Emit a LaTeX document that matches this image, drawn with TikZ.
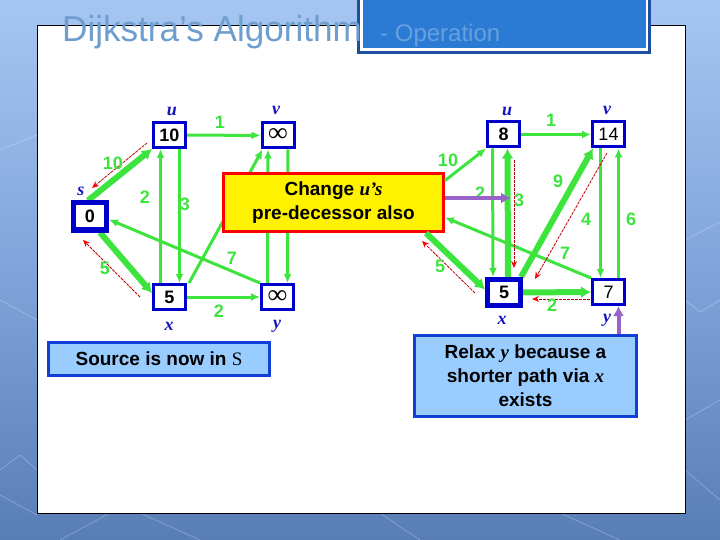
\documentclass[tikz,border=0pt]{standalone}
\usepackage{fontspec}
\setmainfont{Liberation Serif}
\setsansfont{Liberation Sans}
\usetikzlibrary{arrows.meta,calc}
\definecolor{gr}{RGB}{62,228,62}
\definecolor{nblue}{RGB}{0,0,205}
\definecolor{lblue}{RGB}{20,20,190}
\definecolor{boxfill}{RGB}{153,204,255}
\definecolor{boxline}{RGB}{16,64,216}
\definecolor{purp}{RGB}{150,100,200}
\definecolor{titlec}{RGB}{110,158,206}
\definecolor{opc}{RGB}{104,160,222}
\definecolor{rd}{RGB}{190,0,0}
\definecolor{bgtop}{RGB}{166,198,242}
\definecolor{bgmid}{RGB}{128,164,218}
\definecolor{bgbot}{RGB}{88,126,182}
\definecolor{boxdark}{RGB}{30,78,160}
\definecolor{boxmid}{RGB}{43,123,212}
\tikzset{
  vtx/.style={draw=nblue,line width=3pt,fill=white,minimum width=32pt,minimum height=25pt,inner sep=0pt,font=\sffamily\bfseries\fontsize{18}{20}\selectfont},
  src/.style={vtx,line width=5pt,minimum width=33pt,minimum height=27pt},
  e/.style={draw=gr,line width=3pt,-{Latex[length=9pt,width=8pt]}},
  et/.style={draw=gr,line width=6pt,-{Latex[length=10pt,width=12pt]}},
  elbl/.style={text=gr,font=\sffamily\bfseries\fontsize{18}{20}\selectfont,inner sep=0pt},
  nl/.style={text=lblue,font=\bfseries\itshape\fontsize{18}{20}\selectfont,inner sep=0pt},
  redarr/.style={draw=rd,line width=0.8pt,dash pattern=on 3pt off 1pt,-{Stealth[length=7pt,width=6pt,color=red]}},
  parr/.style={draw=purp,line width=4pt,-{Latex[length=10pt,width=11pt]}},
  infobox/.style={draw=boxline,line width=3pt,fill=boxfill,inner sep=0pt,align=center,font=\sffamily\bfseries\fontsize{19}{24}\selectfont},
  pic/.style={x=1pt,y=-1pt}
}
\newcommand{\infsym}{{\rmfamily\bfseries\fontsize{27}{20}\selectfont ∞}}
\begin{document}
\begin{tikzpicture}[pic]
\useasboundingbox (0,0) rectangle (720,540);
% background
\shade[top color=bgtop,bottom color=bgbot,middle color=bgmid] (0,0) rectangle (720,540);
\begin{scope}[draw=white,opacity=0.25,line width=0.8pt]
\draw (0,470) -- (20,455) -- (37,470);
\draw (0,495) -- (37,515);
\draw (60,540) -- (110,513);
\draw (140,513) -- (200,540);
\draw (380,513) -- (420,540);
\draw (560,513) -- (620,540);
\draw (685,240) -- (720,222);
\draw (685,300) -- (700,312) -- (720,300);
\draw (685,420) -- (720,400);
\draw (685,470) -- (720,500);
\draw (0,300) -- (37,320);
\draw (0,150) -- (37,135);
\end{scope}
% panel
\draw[black,line width=1pt,fill=white] (37,26) rectangle (685,513);
% title box
\fill[boxdark] (357,-5) rectangle (651,54);
\fill[white] (360,-5) rectangle (648,51);
\fill[boxmid] (362.5,-5) rectangle (645.5,48);
\node[anchor=base west,text=titlec,font=\sffamily\fontsize{36}{38}\selectfont,inner sep=0pt,xscale=0.975] (t1) at (62,42) {Dijkstra’s Algorithm};
\node[anchor=base west,text=opc,font=\sffamily\fontsize{24}{26}\selectfont,inner sep=0pt] (t2) at (380,42) {- Operation};
% ---------- left graph nodes
\node[vtx] (u) at (169.5,135) {10};
\node[vtx] (v) at (278,135.5) {\infsym};
\node[src] (s) at (90,216.5) {0};
\node[vtx] (x) at (169.5,297) {5};
\node[vtx] (y) at (277.5,297) {\infsym};
% left edges
\draw[e] (u) -- (v);
\draw[et] ([xshift=-2pt]s.north) -- (u.south west);
\draw[et] ([xshift=10pt]s.south) -- ([yshift=4pt]x.west);
\draw[e] ([xshift=-9pt]x.north) -- ([xshift=-9pt]u.south);
\draw[e] ([xshift=10pt]u.south) -- ([xshift=10pt]x.north);
\draw[e] ([xshift=2pt]x.north east) -- ([xshift=2pt]v.south west);
\draw[e] (y.north west) -- ([yshift=-3pt]s.east);
\draw[e] ([xshift=-10pt]y.north) -- ([xshift=-10pt]v.south);
\draw[e] ([xshift=10pt]v.south) -- ([xshift=10pt]y.north);
\draw[e] (x) -- (y);
% red predecessor arrows left
\coordinate (r1a) at (147,143);
\coordinate (r1b) at (92,188);
\coordinate (r2a) at (140,297);
\coordinate (r2b) at (83,240);
\draw[redarr] (r1a) -- (r1b);
\draw[redarr] (r2a) -- (r2b);
% redraw nodes on top
\node[vtx] at (u) {10};
\node[vtx] at (v) {\infsym};
\node[src] at (s) {0};
\node[vtx] at (x) {5};
\node[vtx] at (y) {\infsym};
% left labels
\node[elbl] (l1) at (220,122) {1};
\node[elbl] (l10) at (113,163) {10};
\node[elbl] (l2) at (145,197) {2};
\node[elbl] (l3) at (185,204) {3};
\node[elbl] (l5) at (105,268) {5};
\node[elbl] (l7) at (232,258) {7};
\node[elbl] (l2b) at (219,311) {2};
\node[nl] (nu) at (172,111) {u};
\node[nl] (nv) at (276,110) {v};
\node[nl] (ns) at (81,191) {s};
\node[nl] (nx) at (169,326) {x};
\node[nl] (ny) at (277,326) {y};
% ---------- right graph nodes
\node[vtx] (u2) at (503.5,134.5) {8};
\node[vtx,font=\sffamily\fontsize{18}{20}\selectfont] (v2) at (608.5,134.5) {14};
\node[src,minimum height=26pt] (x2) at (504,292.5) {5};
\node[vtx,font=\sffamily\fontsize{18}{20}\selectfont] (y2) at (608.5,292) {7};
% yellow box (covers the hidden source of the right graph)
\node[draw=red,line width=3pt,fill=yellow,minimum width=220pt,minimum height=58pt,inner sep=0pt,align=center,font=\sffamily\bfseries\fontsize{19}{24}\selectfont] (ybox) at (333.5,202.5) {Change {\rmfamily\itshape u’s}\\pre-decessor also};
% right edges
\draw[e] ([yshift=22pt]ybox.east) -- (u2.south west);
\draw[et] ([xshift=-19pt]ybox.south east) -- ([yshift=3pt]x2.west);
\draw[e] (u2) -- (v2);
\draw[e] ([xshift=-11pt]u2.south) -- ([xshift=-11pt]x2.north);
\draw[et] ([xshift=4pt]x2.north) -- ([xshift=4pt]u2.south);
\draw[et] ([xshift=-2pt]x2.north east) -- ([xshift=2pt]v2.south west);
\draw[e] ([xshift=-8pt]v2.south) -- ([xshift=-8pt]y2.north);
\draw[e] ([xshift=10pt]y2.north) -- ([xshift=10pt]v2.south);
\draw[e] (y2.north west) -- ([yshift=-15pt]ybox.east);
\draw[et] (x2) -- (y2);
% red predecessor arrows right
\coordinate (r3a) at (514,160);
\coordinate (r3b) at (514,268);
\coordinate (r4a) at (607,153);
\coordinate (r4b) at (535,279);
\coordinate (r5a) at (590,299);
\coordinate (r5b) at (532,299);
\coordinate (r6a) at (475,293);
\coordinate (r6b) at (422,241);
\draw[redarr] (r3a) -- (r3b);
\draw[redarr] (r4a) -- (r4b);
\draw[redarr] (r5a) -- (r5b);
\draw[redarr] (r6a) -- (r6b);
% redraw right nodes on top
\node[vtx] at (u2) {8};
\node[vtx,font=\sffamily\fontsize{18}{20}\selectfont] at (v2) {14};
\node[src,minimum height=26pt] at (x2) {5};
\node[vtx,font=\sffamily\fontsize{18}{20}\selectfont] at (y2) {7};
% right labels
\node[elbl] (m1) at (551,120) {1};
\node[elbl] (m10) at (448,160) {10};
\node[elbl] (m2) at (480,193) {2};
\node[elbl] (m3) at (519,200) {3};
\node[elbl] (m9) at (558,181) {9};
\node[elbl] (m4) at (586,219) {4};
\node[elbl] (m6) at (631,219) {6};
\node[elbl] (m7) at (565,253) {7};
\node[elbl] (m5) at (440,266) {5};
\node[elbl] (m2b) at (552,305) {2};
\node[nl] (nu2) at (507,111) {u};
\node[nl] (nv2) at (607,110) {v};
\node[nl] (nx2) at (502,320) {x};
\node[nl] (ny2) at (607,320) {y};
% purple arrows
\coordinate (p1) at (511,198);
\draw[parr] ([yshift=4.5pt]ybox.east) -- (p1);
% info boxes
\node[infobox,minimum width=221pt,minimum height=33pt] (sbox) at (159,359) {Source is now in {\rmfamily\mdseries S}};
\node[infobox,minimum width=222pt,minimum height=81pt] (rbox) at (525.5,376) {Relax {\rmfamily\itshape y} because a\\shorter path via {\rmfamily\itshape x}\\exists};
\draw[parr] ($(rbox.north -| y2.south)+(10,0)$) -- ([xshift=10pt]y2.south);
\end{tikzpicture}
\end{document}
